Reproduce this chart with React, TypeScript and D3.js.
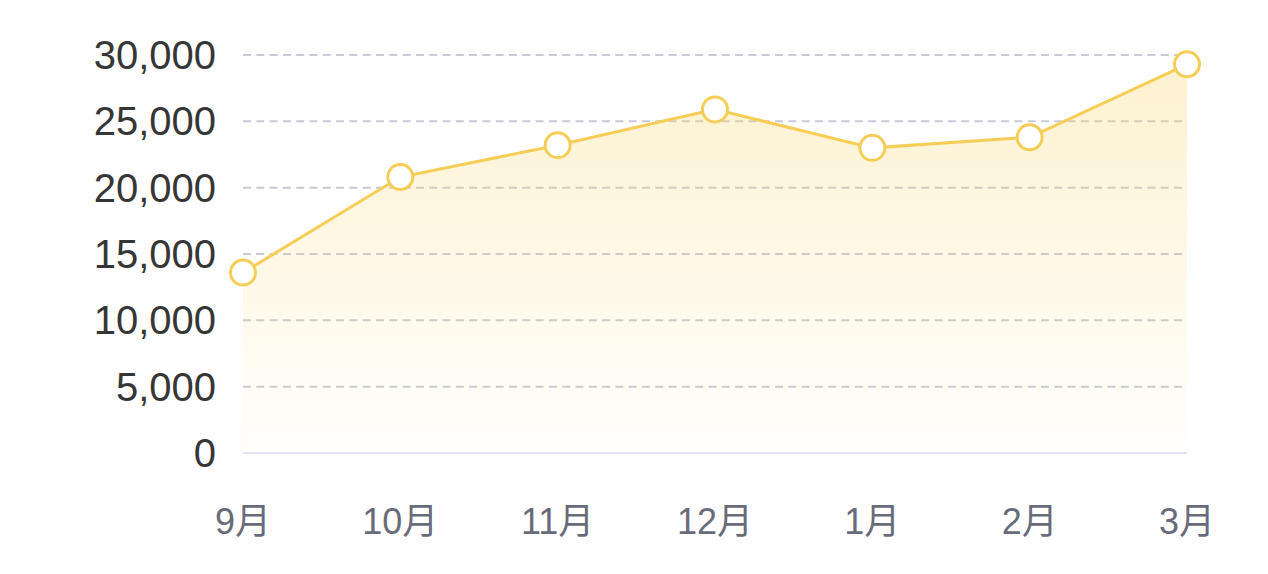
import React from 'react';
import * as d3 from 'd3';

const months = ['9月', '10月', '11月', '12月', '1月', '2月', '3月'];
const values = [13600, 20800, 23200, 25900, 23000, 23800, 29300];
const yTicks = [0, 5000, 10000, 15000, 20000, 25000, 30000];

const width = 1268;
const height = 574;
const margin = { top: 55, right: 81, bottom: 121, left: 243 };

const lineColor = '#f6cd57';
const fontStack = '"Liberation Sans", Arial, "Noto Sans CJK SC", sans-serif';

export default function App() {
  const innerW = width - margin.left - margin.right;
  const innerH = height - margin.top - margin.bottom;

  const x = d3.scalePoint<string>().domain(months).range([0, innerW]);
  const y = d3.scaleLinear().domain([0, 30000]).range([innerH, 0]);

  const data = months.map((m, i) => ({ m, v: values[i] }));

  const line = d3.line<{ m: string; v: number }>()
    .x(d => x(d.m)!)
    .y(d => y(d.v));

  const area = d3.area<{ m: string; v: number }>()
    .x(d => x(d.m)!)
    .y0(innerH)
    .y1(d => y(d.v));

  const fmt = d3.format(',');

  return (
    <svg
      width={width}
      height={height}
      style={{ position: 'absolute', left: 0, top: 0, background: '#fff' }}
    >
      <defs>
        <linearGradient id="area-grad" x1="0" y1="0" x2="0" y2="1">
          <stop offset="0%" stopColor="#f7d463" stopOpacity={0.3} />
          <stop offset="100%" stopColor="#f7d463" stopOpacity={0.02} />
        </linearGradient>
      </defs>
      <g transform={`translate(${margin.left},${margin.top})`}>
        {/* grid */}
        {yTicks.filter(t => t !== 0).map(t => (
          <line
            key={t}
            x1={0}
            x2={innerW}
            y1={y(t)}
            y2={y(t)}
            stroke="#c8cad6"
            strokeWidth={2}
            strokeDasharray="8,5.3"
          />
        ))}
        <path d={area(data)!} fill="url(#area-grad)" />
        <line x1={0} x2={innerW} y1={innerH} y2={innerH} stroke="#e1e3f0" strokeWidth={2} />
        <path d={line(data)!} fill="none" stroke={lineColor} strokeWidth={3} />
        {data.map(d => (
          <circle
            key={d.m}
            cx={x(d.m)}
            cy={y(d.v)}
            r={12.5}
            fill="#fff"
            stroke={lineColor}
            strokeWidth={3}
          />
        ))}
        {/* y axis labels */}
        {yTicks.map(t => (
          <text
            key={t}
            x={-27}
            y={y(t)}
            dy="0.35em"
            textAnchor="end"
            fontSize={40}
            fontFamily={fontStack}
            fill="#363636"
          >
            {fmt(t)}
          </text>
        ))}
        {/* x axis labels */}
        {months.map(m => (
          <text
            key={m}
            x={x(m)}
            y={innerH + 68}
            dy="0.35em"
            textAnchor="middle"
            fontSize={36}
            fontFamily={fontStack}
            fill="#686b79"
          >
            {m}
          </text>
        ))}
      </g>
    </svg>
  );
}
